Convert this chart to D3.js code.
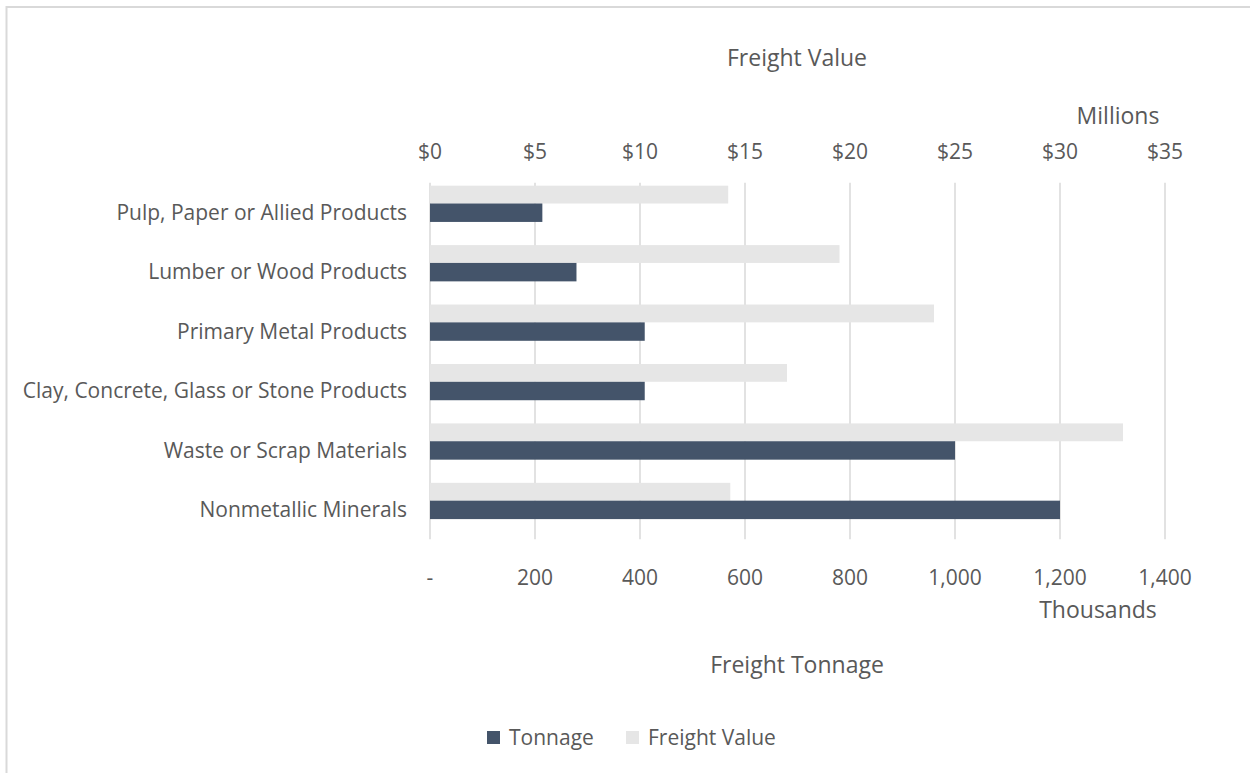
<!DOCTYPE html>
<meta charset="utf-8">
<head>
    <meta charset="utf-8">
    <title>Freight Tonnage / Freight Value</title>
    <script src="https://d3js.org/d3.v7.min.js" charset="utf-8"></script>
    <style>
        html, body { margin: 0; padding: 0; background: #fff; }
        svg { display: block; font-family: "Open Sans", sans-serif; }
        .lbl { fill: #595959; font-size: 21px; }
        .ttl { fill: #595959; font-size: 23px; }
        .grid line { stroke: #d9d9d9; stroke-width: 1.5px; }
    </style>
</head>
<body>
<svg width="1250" height="773"></svg>
<script>

// データ
var categories = [
    "Pulp, Paper or Allied Products",
    "Lumber or Wood Products",
    "Primary Metal Products",
    "Clay, Concrete, Glass or Stone Products",
    "Waste or Scrap Materials",
    "Nonmetallic Minerals"
];
var tonnage = [214, 279, 409, 409, 1000, 1200];          // thousands
var freightValue = [14.2, 19.5, 24.0, 17.0, 33.0, 14.3];  // millions $
var tonnageTicks = [0, 200, 400, 600, 800, 1000, 1200, 1400];
var valueTicks = [0, 5, 10, 15, 20, 25, 30, 35];

var svg = d3.select("svg");

// 枠線
svg.append("path")
    .attr("d", "M6.5,773 V7 H1250")
    .attr("fill", "none")
    .attr("stroke", "#d9d9d9")
    .attr("stroke-width", 2);

var plotTop = 182.7, plotBottom = 539.3, plotLeft = 430, plotRight = 1165;

var x = d3.scaleLinear().domain([0, 1400]).range([plotLeft, plotRight]);
var x2 = d3.scaleLinear().domain([0, 35]).range([plotLeft, plotRight]);
var y = d3.scaleBand().domain(categories).range([plotTop, plotBottom]).padding(0);

// グリッド
svg.append("g").attr("class", "grid")
    .selectAll("line").data(tonnageTicks).join("line")
    .attr("x1", d => x(d)).attr("x2", d => x(d))
    .attr("y1", plotTop).attr("y2", plotBottom);

var bh = y.bandwidth() * 0.3;

// Freight Value (light)
svg.append("g").selectAll("rect").data(categories).join("rect")
    .attr("x", plotLeft)
    .attr("y", (d, i) => y(d) + y.bandwidth() / 2 - bh * 1.5)
    .attr("width", (d, i) => x2(freightValue[i]) - plotLeft)
    .attr("height", bh)
    .attr("fill", "#e6e6e6");

// Tonnage (dark)
svg.append("g").selectAll("rect").data(categories).join("rect")
    .attr("x", plotLeft)
    .attr("y", (d, i) => y(d) + y.bandwidth() / 2 - bh / 2)
    .attr("width", (d, i) => x(tonnage[i]) - plotLeft)
    .attr("height", bh + 0.6)
    .attr("fill", "#44546a");

// カテゴリラベル
svg.append("g").selectAll("text").data(categories).join("text")
    .attr("class", "lbl")
    .attr("x", 407)
    .attr("y", d => y(d) + y.bandwidth() / 2)
    .attr("dy", "0.35em")
    .attr("text-anchor", "end")
    .text(d => d);

// 上軸 (Freight Value)
var fmtVal = d => "$" + d;
svg.append("g").selectAll("text").data(valueTicks).join("text")
    .attr("class", "lbl")
    .attr("x", d => x2(d))
    .attr("y", 152)
    .attr("dy", "0.35em")
    .attr("text-anchor", "middle")
    .text(fmtVal);

// 下軸 (Tonnage)
var fmtTon = d => d === 0 ? "-" : d3.format(",")(d);
svg.append("g").selectAll("text").data(tonnageTicks).join("text")
    .attr("class", "lbl")
    .attr("x", d => x(d))
    .attr("y", 578)
    .attr("dy", "0.35em")
    .attr("text-anchor", "middle")
    .text(fmtTon);

// 軸タイトル
function label(txt, cx, cy) {
    svg.append("text").attr("class", "ttl")
        .attr("x", cx).attr("y", cy)
        .attr("dy", "0.35em")
        .attr("text-anchor", "middle")
        .text(txt);
}
label("Freight Value", 797, 58);
label("Millions", 1118, 116);
label("Thousands", 1098, 610);
label("Freight Tonnage", 797, 665);

// 凡例
var legend = [
    {name: "Tonnage", color: "#44546a", x: 487},
    {name: "Freight Value", color: "#e6e6e6", x: 626}
];
var lg = svg.append("g").selectAll("g").data(legend).join("g")
    .attr("transform", d => "translate(" + d.x + ",731)");
lg.append("rect").attr("width", 13).attr("height", 13).attr("fill", d => d.color);
lg.append("text").attr("class", "lbl")
    .attr("x", 22).attr("y", 6.5).attr("dy", "0.35em")
    .text(d => d.name);

</script>
</body>
</html>
